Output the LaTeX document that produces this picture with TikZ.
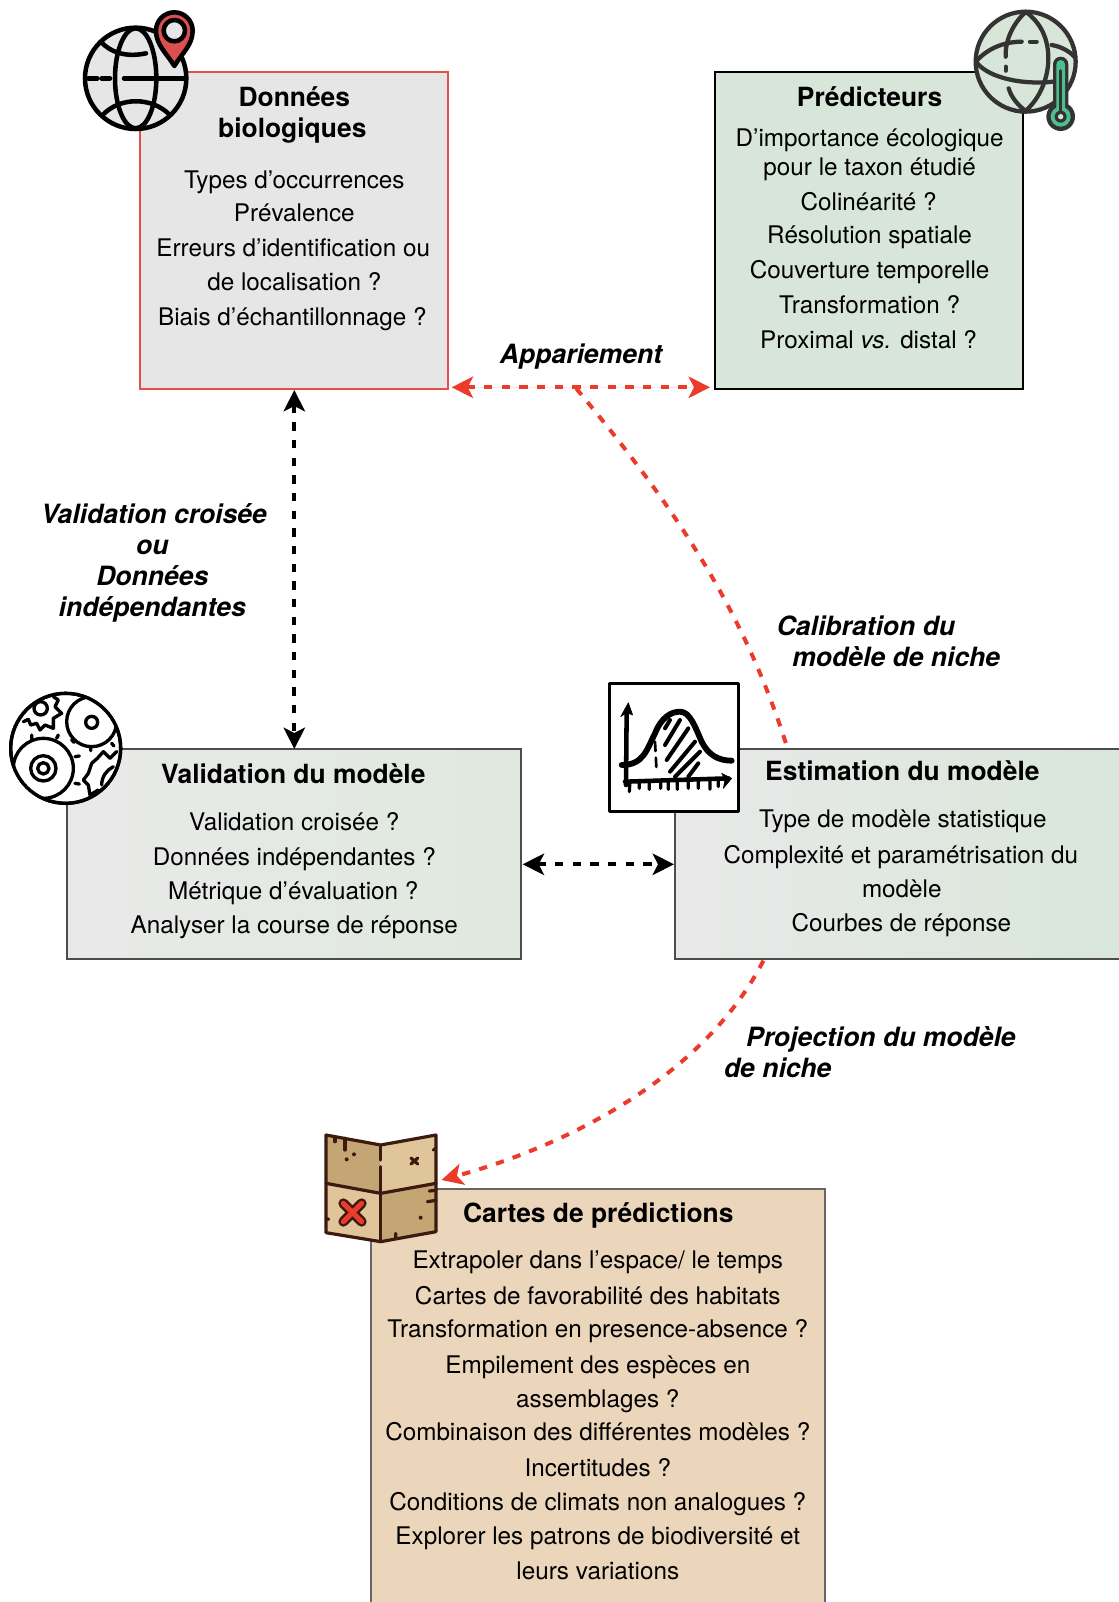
\documentclass[tikz,border=0pt]{standalone}
\usepackage{fontspec}
\setmainfont{TeX Gyre Heros}
\usepackage{tikz}
\usetikzlibrary{arrows.meta}
\definecolor{boxgrey}{HTML}{E6E6E6}
\definecolor{fadegrey}{HTML}{E9E9E9}
\definecolor{boxgreen}{HTML}{D8E6D9}
\definecolor{fadegreen}{HTML}{DFE9DE}
\definecolor{boxsand}{HTML}{EBD6BC}
\definecolor{boxred}{HTML}{E2504C}
\definecolor{linkred}{HTML}{EA3B2B}
\definecolor{pinred}{HTML}{DC4F4F}
\definecolor{thermogreen}{HTML}{4CBF90}
\definecolor{mapdark}{HTML}{C4A574}
\definecolor{maplight}{HTML}{E0C59A}
\definecolor{mapline}{HTML}{3D1A10}
\tikzstyle{box}=[inner sep=0pt,line width=1.6pt]
\tikzstyle{title}=[font=\fontsize{19.8}{23}\selectfont\bfseries,text height=18.2pt,text depth=4pt,inner sep=0pt]
\tikzstyle{item}=[font=\fontsize{18.2}{21}\selectfont,text height=17.2pt,text depth=4pt,inner sep=0pt]
\tikzstyle{tag}=[font=\fontsize{19.9}{23}\selectfont\bfseries\itshape,text height=18pt,text depth=4pt,inner sep=0pt]
\tikzstyle{link}=[line width=3pt,dash pattern=on 6.25pt off 7pt,{Stealth[length=16pt,width=16pt,inset=4pt]}-{Stealth[length=16pt,width=16pt,inset=4pt]}]
\tikzstyle{icon}=[x=0.25pt,y=-0.25pt,line cap=round,line join=round]

\begin{document}
\begin{tikzpicture}[x=0.75pt,y=-0.75pt]
  \useasboundingbox (0,0) rectangle (1119,1602);

  % the five boxes
  \node[box,draw=boxred,fill=boxgrey,minimum width=231pt,minimum height=237.75pt] (donnees) at (294,230.75) {};
  \node[box,draw=black,fill=boxgreen,minimum width=231pt,minimum height=237.75pt] (predicteurs) at (869,230.75) {};
  \node[box,draw=black!70,left color=fadegrey,right color=fadegreen,minimum width=340.5pt,minimum height=157.5pt] (validation) at (294,854) {};
  \node[box,draw=black!70,left color=fadegrey,right color=boxgreen,minimum width=345pt,minimum height=157.5pt] (estimation) at (905,854) {};
  \node[box,draw=black!60,fill=boxsand,minimum width=340.5pt,minimum height=330pt] (cartes) at (598,1409) {};

  \node[title] (donneest) at (294.3,97.1) {Données};
  \node[title] (donneesb) at (292.3,127.7) {biologiques};
  \node[item] (donnees1) at (294.3,179.9) {Types d’occurrences};
  \node[item] (donnees2) at (294.3,212.6) {Prévalence};
  \node[item] (donnees3) at (293.3,247.3) {Erreurs d’identification ou};
  \node[item] (donnees4) at (294.3,282) {de localisation ?};
  \node[item] (donnees5) at (292.3,316.8) {Biais d’échantillonnage ?};

  \node[title] (predt) at (869.6,97.1) {Prédicteurs};
  \node[item] (pred1) at (869.6,138) {D’importance écologique};
  \node[item] (pred2) at (869.6,166.6) {pour le taxon étudié};
  \node[item] (pred3) at (868.6,201.3) {Colinéarité ?};
  \node[item] (pred4) at (869.6,235) {Résolution spatiale};
  \node[item] (pred5) at (869.6,269.8) {Couverture temporelle};
  \node[item] (pred6) at (869.6,304.5) {Transformation ?};
  \node[item] (pred7) at (868.6,339.3) {Proximal \textit{vs.} distal ?};

  \node[title] (validt) at (293.3,773.6) {Validation du modèle};
  \node[item] (valid1) at (294.3,821.6) {Validation croisée ?};
  \node[item] (valid2) at (294.3,856.4) {Données indépendantes ?};
  \node[item] (valid3) at (293.3,891.1) {Métrique d’évaluation ?};
  \node[item] (valid4) at (294.3,924.8) {Analyser la course de réponse};

  \node[title] (estimt) at (902.4,771.5) {Estimation du modèle};
  \node[item] (estim1) at (902.9,818.5) {Type de modèle statistique};
  \node[item] (estim2) at (900.8,854.3) {Complexité et paramétrisation du};
  \node[item] (estim3) at (901.8,889) {modèle};
  \node[item] (estim4) at (901.3,922.8) {Courbes de réponse};

  \node[title] (cartest) at (598.3,1213) {Cartes de prédictions};
  \node[item] (cartes1) at (597.8,1260) {Extrapoler dans l’espace/ le temps};
  \node[item] (cartes2) at (597.8,1295.8) {Cartes de favorabilité des habitats};
  \node[item] (cartes3) at (597.8,1328.5) {Transformation en presence-absence ?};
  \node[item] (cartes4) at (597.8,1364.2) {Empilement des espèces en};
  \node[item] (cartes5) at (597.8,1399) {assemblages ?};
  \node[item] (cartes6) at (597.8,1431.7) {Combinaison des différentes modèles ?};
  \node[item] (cartes7) at (597.8,1467.4) {Incertitudes ?};
  \node[item] (cartes8) at (597.8,1501.2) {Conditions de climats non analogues ?};
  \node[item] (cartes9) at (597.8,1535.9) {Explorer les patrons de biodiversité et};
  \node[item] (cartes10) at (597.8,1570.7) {leurs variations};

  % labels of the links
  \node[tag] (appariement) at (581,354.6) {Appariement};
  \node[tag] (croisee1) at (154,514) {Validation croisée};
  \node[tag] (croisee2) at (152.3,544.7) {ou};
  \node[tag] (croisee3) at (152.3,576.3) {Données};
  \node[tag] (croisee4) at (152.3,607) {indépendantes};
  \node[tag] (calib1) at (866,626.4) {Calibration du};
  \node[tag] (calib2) at (896.2,657.1) {modèle de niche};
  \node[tag] (proj1) at (880.9,1037.2) {Projection du modèle};
  \node[tag] (proj2) at (777.7,1067.9) {de niche};

  % links
  \coordinate (appleft) at (451.7,387.3);
  \coordinate (appright) at (710,387.3);
  \coordinate (appmid) at (575.3,387.3);
  \coordinate (calibstart) at (785.8,743);
  \coordinate (projstart) at (763.4,960.6);
  \coordinate (projend) at (441.5,1180);
  \coordinate (validtop) at (294.3,749);
  \coordinate (donneesbot) at (294.3,390);
  \coordinate (midleft) at (522.7,864.3);
  \coordinate (midright) at (674,864.3);

  \draw[link,draw=linkred,fill=linkred] (appleft) -- (appright);
  \draw[line width=3pt,dash pattern=on 6.25pt off 7pt,draw=linkred] (calibstart) .. controls (740,600) and (665,495) .. (appmid);
  \draw[line width=3pt,dash pattern=on 6.25pt off 7pt,draw=linkred,-{Stealth[length=16pt,width=16pt,inset=4pt]}] (projstart) .. controls (705,1075) and (570,1145) .. (projend);
  \draw[link] (donneesbot) -- (validtop);
  \draw[link] (midleft) -- (midright);

  % globe with the pin
  \begin{scope}[shift={(60,0)},icon,line width=3.4pt]
    \draw[fill=boxgrey] (227,235) circle (152);
    \draw (227,235) ellipse [x radius=62,y radius=150];
    \draw (85,235) -- (112,235) (125,235) -- (150,235) (192,235) -- (375,235);
    \draw (122,125) .. controls (160,165) and (210,170) .. (258,160);
    \draw (128,345) .. controls (180,290) and (275,290) .. (330,345);
    \draw[fill=pinred] (343,198) .. controls (320,160) and (288,135) .. (288,92) arc (180:360:55) .. controls (398,135) and (366,160) .. cycle;
    \draw[fill=boxgrey] (343,92) circle (32);
  \end{scope}

  % globe with the thermometer
  \begin{scope}[shift={(950,0)},icon,line width=3.2pt,draw=black!80]
    \draw[fill=boxgreen] (227,185) circle (150);
    \draw (82,180) .. controls (120,140) and (170,125) .. (215,125);
    \draw (240,125) -- (260,125);
    \draw (305,135) .. controls (335,140) and (360,155) .. (375,172);
    \draw (82,190) .. controls (120,235) and (220,255) .. (310,245);
    \draw (225,38) .. controls (190,70) and (165,120) .. (167,170);
    \draw (167,200) -- (167,212);
    \draw (176,265) .. controls (185,295) and (205,315) .. (225,332);
    \draw (227,35) .. controls (275,70) and (295,120) .. (295,175) .. controls (295,240) and (265,300) .. (227,332);
    \fill[black!80] (309,313.6) -- (309,193) arc (180:360:23) -- (355,313.6) arc (-57.7:237.7:43) -- cycle;
    \fill[thermogreen] (319,323) -- (319,193) arc (180:360:13) -- (345,323) arc (-64.3:244.3:30) -- cycle;
    \draw[line width=2.5pt] (332,212) -- (332,340);
    \fill[black!80] (332,350) circle (18);
    \fill[boxgreen] (332,350) circle (8);
  \end{scope}

  % eyes and gears
  \begin{scope}[shift={(0,680)},icon,line width=2.5pt]
    \draw[fill=white] (197,205) circle (165);
    \begin{scope}
      \clip (197,205) circle (165);
      \draw (70,125) -- (85,118) -- (92,135) -- (110,130) -- (120,150) -- (135,135) -- (160,145) -- (160,115) -- (185,100) -- (165,80) -- (175,60) -- (160,50);
      \draw (122,85) circle (20);
      \draw (275,250) -- (292,235) -- (310,215) -- (330,235) -- (350,215);
      \draw (275,250) -- (265,280) -- (250,300) -- (265,315) -- (270,345) -- (295,330);
      \draw (305,315) .. controls (305,290) and (320,270) .. (340,260);
      \draw (215,180) -- (222,187) (272,200) -- (272,212) (335,190) -- (342,198);
      \draw (95,165) -- (95,178) (175,165) -- (170,175) (225,230) -- (238,228) (225,310) -- (238,312);
      \draw[fill=white] (275,125) circle (75);
      \draw (275,127) circle (18);
      \draw[fill=white] (130,265) circle (90);
      \draw (130,265) circle (38);
      \draw (130,265) circle (17);
    \end{scope}
    \draw (197,205) circle (165);
  \end{scope}

  % chart
  \begin{scope}[shift={(600,670)},icon]
    \draw[line width=2.2pt,fill=white] (28,40) rectangle (415,425);
    \draw[line width=2pt,dash pattern=on 7pt off 5pt] (165,215) -- (170,310);
    \draw[line width=3pt] (195,225) -- (240,150) (200,270) -- (265,175) (210,305) -- (285,215) (225,320) -- (300,245) (265,320) -- (295,280) (195,175) -- (210,150);
    \draw[line width=4.4pt] (65,285) .. controls (130,285) and (140,240) .. (165,190) .. controls (185,140) and (215,125) .. (240,125) .. controls (270,125) and (285,170) .. (305,215) .. controls (325,255) and (355,272) .. (395,272);
    \draw[line width=3.4pt] (78,345) -- (80,120);
    \draw[fill=black] (62,140) -- (85,98) -- (98,135) -- (80,128) -- cycle;
    \draw[line width=3.4pt] (75,335) -- (385,325);
    \draw[fill=black] (365,310) -- (395,325) -- (370,355) -- (375,328) -- cycle;
    \draw[line width=2.4pt] (90,335) -- (88,365) (118,335) -- (118,355) (148,335) -- (148,358) (182,335) -- (182,355) (205,335) -- (205,358) (232,332) -- (232,358) (265,332) -- (265,355) (295,330) -- (295,355) (330,330) -- (330,358) (355,330) -- (355,350);
  \end{scope}

  % map
  \begin{scope}[shift={(310,1120)},icon,line width=2.4pt,draw=mapline]
    \fill[mapdark] (48,45) -- (212,75) -- (212,220) -- (48,190) -- cycle;
    \fill[maplight] (212,75) -- (378,45) -- (378,190) -- (212,220) -- cycle;
    \fill[maplight] (48,190) -- (212,220) -- (212,365) -- (48,338) -- cycle;
    \fill[mapdark] (212,220) -- (378,190) -- (378,335) -- (212,365) -- cycle;
    \draw (48,45) -- (212,75) -- (378,45) -- (378,335) -- (212,365) -- (48,338) -- cycle;
    \draw (48,190) -- (212,220) -- (378,190);
    \draw (212,80) -- (212,120) (212,140) -- (212,360);
    \draw (75,50) -- (75,65) (105,55) -- (105,90);
    \fill[mapline] (110,118) circle (6) (132,103) circle (6) (332,293) circle (6);
    \draw[line width=2.4pt] (303,114) -- (323,132) (323,114) -- (303,132);
    \draw (370,90) -- (378,85) (358,213) -- (378,211) (352,245) -- (378,241) (257,340) -- (257,355) (48,295) -- (56,298);
    \draw[line width=7.5pt] (100,250) -- (155,305) (155,250) -- (100,305);
    \draw[line width=3.8pt,draw=linkred] (100,250) -- (155,305) (155,250) -- (100,305);
  \end{scope}
\end{tikzpicture}
\end{document}
